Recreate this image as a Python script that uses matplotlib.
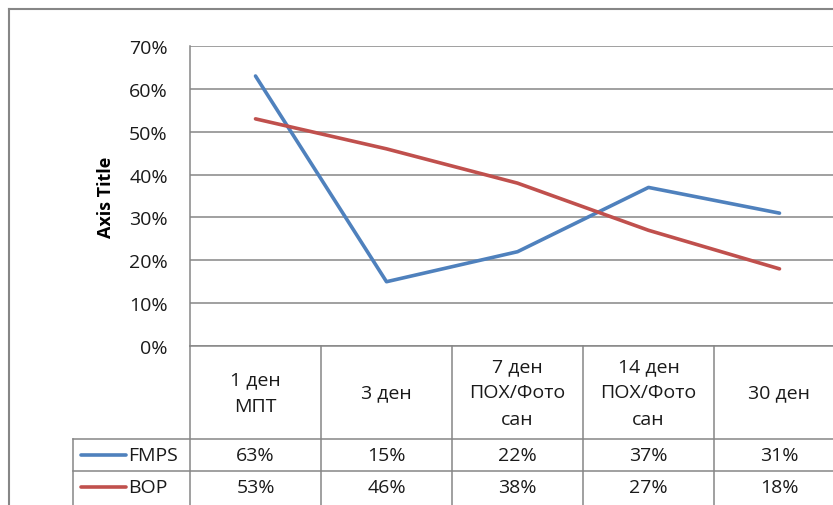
import matplotlib.pyplot as plt
from matplotlib.lines import Line2D
from matplotlib.transforms import blended_transform_factory
import numpy as np

plt.rcParams['font.family'] = ['Open Sans', 'DejaVu Sans']

# Data
categories = ['1 ден\nМПТ', '3 ден', '7 ден\nПОХ/Фото\nсан', '14 ден\nПОХ/Фото\nсан', '30 ден']
series_names = ['FMPS', 'BOP']
fmps = [63, 15, 22, 37, 31]
bop = [53, 46, 38, 27, 18]
colors = ['#4F81BD', '#C0504D']
grid_col = '#868686'
txt_col = '#1a1a1a'
fs = 14

W, H = 833, 506
fig = plt.figure(figsize=(W / 100, H / 100), dpi=100)

# plot area in pixels: left 190, top 47, bottom 347, 5 columns of 131 px
left, top, bottom, colw = 190, 47, 347, 131
ax = fig.add_axes([left / W, (H - bottom) / H, 5 * colw / W, (bottom - top) / H])
x = np.arange(len(categories))
for vals, c in zip([fmps, bop], colors):
    ax.plot(x, np.array(vals) / 100, color=c, lw=2.6, solid_capstyle='round', zorder=3)

ax.set_xlim(-0.5, 4.5)
ax.set_ylim(0, 0.7)
ax.set_yticks(np.arange(0, 0.71, 0.1))
ax.set_yticklabels([f'{int(round(v * 100))}%' for v in np.arange(0, 0.71, 0.1)], fontsize=fs, color=txt_col)
ax.tick_params(axis='y', length=0, pad=16)
ax.set_xticks([])
ax.grid(axis='y', color=grid_col, lw=1.1)
for s in ['top', 'right']:
    ax.spines[s].set_visible(False)
for s in ['left', 'bottom']:
    ax.spines[s].set_color(grid_col)
    ax.spines[s].set_linewidth(1.1)
ax.set_ylabel('Axis Title', fontsize=13, fontweight='bold', labelpad=10)

# data table below the axes
tr = blended_transform_factory(ax.transData, fig.transFigure)


def fy(py):
    return (H - py) / H


def fx(px):
    return px / W


row1, row2 = 440, 472
for b in np.arange(-0.5, 5.0, 1.0):
    ax.add_line(Line2D([b, b], [fy(bottom), fy(H + 5)], transform=tr, color=grid_col, lw=1.1, clip_on=False))
for ry in [row1, row2]:
    fig.add_artist(Line2D([fx(73), 1.05], [fy(ry), fy(ry)], color=grid_col, lw=1.1))
fig.add_artist(Line2D([fx(73), fx(73)], [fy(row1), fy(H + 5)], color=grid_col, lw=1.1))

for i, cat in enumerate(categories):
    ax.text(i, fy((bottom + row1) / 2), cat, transform=tr, ha='center', va='center',
            fontsize=fs, linespacing=1.6, color=txt_col)
for r, (name, vals, c) in enumerate(zip(series_names, [fmps, bop], colors)):
    yc = fy((row1 + row2) / 2 + r * 32)
    fig.add_artist(Line2D([fx(81), fx(126)], [yc, yc], color=c, lw=2.6, solid_capstyle='round'))
    fig.text(fx(128), yc, name, ha='left', va='center', fontsize=fs, color=txt_col)
    for i, v in enumerate(vals):
        ax.text(i, yc, f'{v}%', transform=tr, ha='center', va='center', fontsize=fs, color=txt_col)

# outer chart border (cropped)
fig.add_artist(Line2D([fx(9), 1.05], [fy(10), fy(10)], color=grid_col, lw=1.5))
fig.add_artist(Line2D([fx(9), fx(9)], [fy(10), -0.05], color=grid_col, lw=1.5))

fig.savefig('out.png', dpi=100)
